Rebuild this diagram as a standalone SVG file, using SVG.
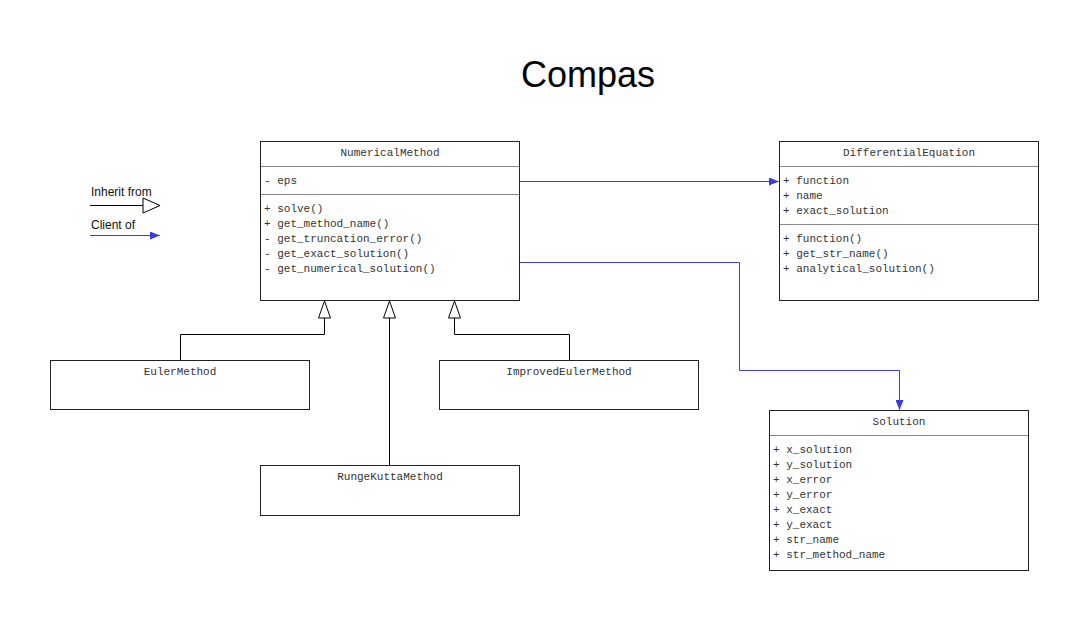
<svg xmlns="http://www.w3.org/2000/svg" width="1090" height="621" viewBox="0 0 1090 621">
<defs>
<style>
.box{fill:#fff;stroke:#222;stroke-width:1}
.sep{stroke:#888;stroke-width:1}
.t{font-family:"Liberation Mono","Courier New",monospace;font-size:11px;fill:#333}
.c{text-anchor:middle}
.inh{fill:none;stroke:#000;stroke-width:1}
.tri{fill:#fff;stroke:#000;stroke-width:1}
.cli{fill:none;stroke:#3b3be0;stroke-width:1}
.lg{font-family:"Liberation Sans",Arial,sans-serif;font-size:12px;fill:#111}
</style>
<marker id="blu" viewBox="0 0 10 8" refX="10" refY="4" markerWidth="10" markerHeight="8" markerUnits="userSpaceOnUse" orient="auto">
<path d="M0,0 L10,4 L0,8 z" fill="#3b3be0"/>
</marker>
</defs>
<rect width="1090" height="621" fill="#fff"/>
<text x="588" y="87" font-family="Liberation Sans,Arial,sans-serif" font-size="36" text-anchor="middle" fill="#000">Compas</text>

<g id="legend">
<text class="lg" x="91" y="196">Inherit from</text>
<line x1="90" y1="205.5" x2="143" y2="205.5" stroke="#000"/>
<path class="tri" d="M143,198 L160,205.5 L143,213 z"/>
<text class="lg" x="91" y="229">Client of</text>
<line x1="90" y1="235.5" x2="160" y2="235.5" class="cli" marker-end="url(#blu)"/>
</g>

<g id="connectors">
<path class="inh" d="M180.5,360 V334.5 H324.5 V318"/>
<path class="inh" d="M389.5,465 V318"/>
<path class="inh" d="M569.5,360 V334.5 H454.5 V318"/>
<path class="tri" d="M324.5,301 L318.5,318 L330.5,318 z"/>
<path class="tri" d="M389.5,301 L383.5,318 L395.5,318 z"/>
<path class="tri" d="M454.5,301 L448.5,318 L460.5,318 z"/>
<path class="cli" d="M519,181.5 H779" marker-end="url(#blu)"/>
<path class="cli" d="M519,262.5 H739.5 V370.5 H899.5 V410" marker-end="url(#blu)"/>
</g>

<g id="NumericalMethod">
<rect class="box" x="260.5" y="141.5" width="259" height="159"/>
<line class="sep" x1="261" y1="166.5" x2="519" y2="166.5"/>
<line class="sep" x1="261" y1="194.5" x2="519" y2="194.5"/>
<text class="t c" x="390" y="156">NumericalMethod</text>
<text class="t" x="264" y="184">-  eps</text>
<text class="t" x="264" y="212">+  solve()</text>
<text class="t" x="264" y="227">+  get_method_name()</text>
<text class="t" x="264" y="242">-  get_truncation_error()</text>
<text class="t" x="264" y="257">-  get_exact_solution()</text>
<text class="t" x="264" y="272">-  get_numerical_solution()</text>
</g>

<g id="DifferentialEquation">
<rect class="box" x="779.5" y="141.5" width="259" height="159"/>
<line class="sep" x1="780" y1="166.5" x2="1038" y2="166.5"/>
<line class="sep" x1="780" y1="224.5" x2="1038" y2="224.5"/>
<text class="t c" x="909" y="156">DifferentialEquation</text>
<text class="t" x="783" y="184">+  function</text>
<text class="t" x="783" y="199">+  name</text>
<text class="t" x="783" y="214">+  exact_solution</text>
<text class="t" x="783" y="242">+  function()</text>
<text class="t" x="783" y="257">+  get_str_name()</text>
<text class="t" x="783" y="272">+  analytical_solution()</text>
</g>

<g id="EulerMethod">
<rect class="box" x="50.5" y="360.5" width="259" height="49"/>
<text class="t c" x="180" y="375">EulerMethod</text>
</g>

<g id="ImprovedEulerMethod">
<rect class="box" x="439.5" y="360.5" width="259" height="49"/>
<text class="t c" x="569" y="375">ImprovedEulerMethod</text>
</g>

<g id="RungeKuttaMethod">
<rect class="box" x="260.5" y="465.5" width="259" height="50"/>
<text class="t c" x="390" y="480">RungeKuttaMethod</text>
</g>

<g id="Solution">
<rect class="box" x="769.5" y="410.5" width="259" height="160"/>
<line class="sep" x1="770" y1="435.5" x2="1028" y2="435.5"/>
<text class="t c" x="899" y="425">Solution</text>
<text class="t" x="773" y="453">+  x_solution</text>
<text class="t" x="773" y="468">+  y_solution</text>
<text class="t" x="773" y="483">+  x_error</text>
<text class="t" x="773" y="498">+  y_error</text>
<text class="t" x="773" y="513">+  x_exact</text>
<text class="t" x="773" y="528">+  y_exact</text>
<text class="t" x="773" y="543">+  str_name</text>
<text class="t" x="773" y="558">+  str_method_name</text>
</g>
</svg>
